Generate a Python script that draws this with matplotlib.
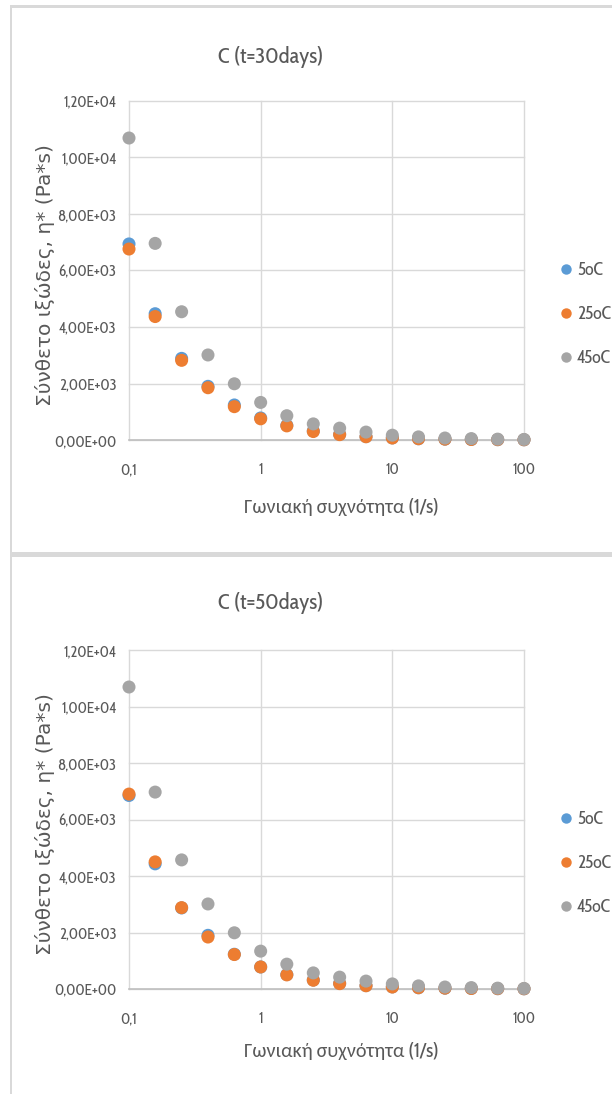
import matplotlib
matplotlib.use("Agg")
import matplotlib.pyplot as plt
from matplotlib.lines import Line2D
from matplotlib.patches import Rectangle

# Angular frequency (1/s), 5 points per decade
freq = [0.1, 0.158, 0.251, 0.398, 0.631, 1.0, 1.58, 2.51, 3.98, 6.31,
        10.0, 15.8, 25.1, 39.8, 63.1, 100.0]

# Complex viscosity eta* (Pa*s), t = 30 days
t30_5c = [6940, 4470, 2890, 1900, 1240, 780, 520, 320, 200, 120, 75, 45, 30, 20, 12, 8]
t30_25c = [6760, 4370, 2820, 1850, 1180, 750, 500, 300, 190, 115, 70, 45, 30, 18, 12, 8]
t30_45c = [10690, 6960, 4540, 3010, 1990, 1330, 860, 570, 420, 280, 170, 110, 70, 50, 30, 20]

# Complex viscosity eta* (Pa*s), t = 50 days
t50_5c = [6850, 4430, 2870, 1900, 1230, 780, 510, 320, 200, 120, 75, 45, 30, 20, 12, 8]
t50_25c = [6900, 4500, 2880, 1840, 1220, 780, 500, 310, 190, 115, 70, 45, 30, 18, 12, 8]
t50_45c = [10690, 6970, 4570, 3010, 1990, 1340, 880, 570, 420, 280, 180, 110, 70, 50, 30, 20]

series_names = ["5oC", "25oC", "45oC"]
titles = ["C (t=30days)", "C (t=50days)"]
y_ticks = [0, 2000, 4000, 6000, 8000, 10000, 12000]
y_tick_labels = ["0,00E+00", "2,00E+03", "4,00E+03", "6,00E+03",
                 "8,00E+03", "1,00E+04", "1,20E+04"]
x_ticks = [0.1, 1, 10, 100]
x_tick_labels = ["0,1", "1", "10", "100"]
x_label = "Γωνιακή συχνότητα (1/s)"
y_label = "Σύνθετο ιξώδες, η* (Pa*s)"

colors = ["#5B9BD5", "#ED7D31", "#A5A5A5"]
text_color = "#595959"
grid_color = "#D9D9D9"
frame_color = "#D9D9D9"

W, H = 612, 1094
narrow = ["Cabin Condensed", "Carlito", "DejaVu Sans"]
plt.rcParams["font.family"] = narrow

fig = plt.figure(figsize=(W / 100, H / 100), dpi=100)
fig.patch.set_facecolor("white")


def fx(x):
    return x / W


def fy(y):
    return 1 - y / H


# Chart frames (light gray borders and separator band)
fig.add_artist(Rectangle((fx(10), fy(8)), fx(W - 10), 3 / H, transform=fig.transFigure,
                         facecolor=frame_color, edgecolor="none"))
fig.add_artist(Rectangle((fx(10), 0), 2 / W, fy(8), transform=fig.transFigure,
                         facecolor=frame_color, edgecolor="none"))
fig.add_artist(Rectangle((fx(10), fy(557)), fx(W - 10), 5 / H, transform=fig.transFigure,
                         facecolor=frame_color, edgecolor="none"))

panels = [
    dict(top=101, bottom=440, title_y=57, xlabel_y=508, legend_y=314,
         data=[t30_5c, t30_25c, t30_45c], title=titles[0]),
    dict(top=650, bottom=989, title_y=603, xlabel_y=1052, legend_y=863,
         data=[t50_5c, t50_25c, t50_45c], title=titles[1]),
]

left_px, right_px = 129, 524

for p in panels:
    ax = fig.add_axes([fx(left_px), fy(p["bottom"]), fx(right_px - left_px),
                       (p["bottom"] - p["top"]) / H])
    ax.set_xscale("log")
    ax.set_xlim(0.1, 100)
    ax.set_ylim(0, 12000)
    ax.set_xticks(x_ticks)
    ax.set_xticklabels(x_tick_labels)
    ax.xaxis.set_minor_locator(matplotlib.ticker.NullLocator())
    ax.set_yticks(y_ticks)
    ax.set_yticklabels(y_tick_labels)
    ax.tick_params(axis="both", length=0, colors=text_color, labelsize=11)
    ax.tick_params(axis="y", pad=9)
    ax.tick_params(axis="x", pad=16)
    ax.grid(True, color=grid_color, linewidth=1.0)
    for gl in ax.get_xgridlines() + ax.get_ygridlines():
        gl.set_clip_on(False)
    ax.set_axisbelow(True)
    for s in ["top", "right", "left"]:
        ax.spines[s].set_visible(False)
    ax.spines["bottom"].set_color("#BFBFBF")
    ax.spines["bottom"].set_linewidth(1.2)

    handles = []
    for vals, c, name in zip(p["data"], colors, series_names):
        ax.scatter(freq, vals, s=88, color=c, edgecolors="none", zorder=3, clip_on=False)
        handles.append(Line2D([], [], linestyle="none", marker="o", markersize=7.5,
                              markerfacecolor=c, markeredgecolor="none", label=name))

    fig.text(fx(271), fy(p["title_y"]), p["title"], ha="center", va="center",
             fontsize=16, color=text_color)
    fig.text(fx(341), fy(p["xlabel_y"]), x_label, ha="center", va="center",
             fontsize=14.5, color=text_color)
    fig.text(fx(45), fy((p["top"] + p["bottom"]) / 2 + 5), y_label, ha="center",
             va="center", rotation=90, fontsize=14.5, color=text_color,
             family=["DejaVu Sans"])

    fig.legend(handles=handles, loc="center left",
               bbox_to_anchor=(fx(559), fy(p["legend_y"])),
               bbox_transform=fig.transFigure, frameon=False,
               fontsize=13, labelcolor=text_color, labelspacing=1.45,
               handlelength=0.8, handletextpad=0.2, borderpad=0, borderaxespad=0)

fig.savefig("out.png", dpi=100, facecolor="white")
